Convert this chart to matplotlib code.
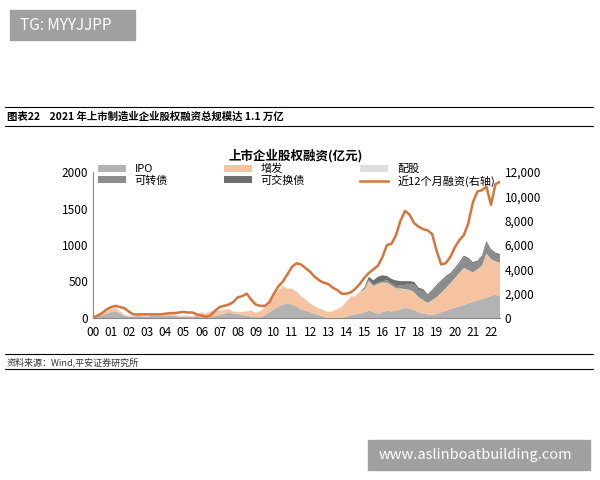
import numpy as np
import matplotlib.pyplot as plt
from matplotlib.patches import Rectangle

plt.rcParams['font.family'] = ['Noto Sans CJK SC', 'DejaVu Sans']

# quarterly data, 2000Q1 .. 2022Q3
ipo = [10, 30, 40, 60, 80, 90, 60, 30, 20, 20, 30, 20, 20, 30, 30, 30, 30, 40, 30, 20,
       20, 20, 10, 30, 10, 10, 10, 30,
       40, 60, 80, 60, 60, 40, 30, 20, 10, 10, 40, 80, 120, 160, 180, 200, 180, 160, 120, 100,
       80, 60, 40, 20, 0, 0, 0, 0, 20, 40, 50, 60, 80, 100, 80, 60, 80, 100, 90, 100,
       120, 140, 130, 110, 80, 60, 50, 40, 60, 80, 100, 120, 140, 160, 180, 200,
       220, 240, 260, 280, 300, 320, 300]
zengfa = [0, 10, 20, 30, 40, 50, 30, 10, 10, 10, 10, 10, 10, 10, 10, 10, 10, 10, 20, 10,
          10, 10, 10, 30, 60, 50, 80, 60, 60, 50, 40, 30, 20, 40, 60, 80, 60, 80, 100, 120,
          180, 220, 250, 200, 220, 200, 180, 150, 120, 100, 90, 90, 80, 90, 120, 150, 200, 250, 250, 300,
          300, 400, 350, 400, 400, 380, 350, 300, 280, 250, 250, 240, 200, 180, 150, 200, 220, 260, 300, 350,
          400, 450, 500, 450, 400, 420, 450, 600, 500, 450, 450]
peigu = [5, 10, 10, 10, 10, 10, 5, 5, 5, 5, 5, 5, 5, 5, 5, 5, 5, 5, 5, 5,
         5, 5, 5, 5, 10, 10, 10, 10, 10, 10, 5, 5, 5, 5, 5, 5, 5, 10, 20, 30,
         20, 10, 10, 5, 5, 5, 5, 5, 5, 5, 5, 5, 5, 5, 5, 5, 5, 5, 5, 5,
         5, 5, 5, 5, 5, 5, 5, 5, 5, 5, 5, 5, 5, 5, 5, 5, 5, 5, 5, 5,
         5, 5, 5, 5, 5, 5, 5, 5, 5, 5, 5]
kezhuan = [0] * 60 + [10, 20, 20, 20, 20, 30, 30, 30, 40, 60, 80, 100, 100, 120, 100, 120, 150, 150, 150, 120,
                      120, 130, 150, 150, 120, 100, 120, 150, 120, 100, 100]
kejiaohuan = [0] * 60 + [20, 40, 60, 80, 80, 60, 60, 80, 60, 50, 40, 40, 30, 30, 20, 20, 20, 20, 20, 20,
                         20, 20, 20, 20, 20, 20, 20, 20, 20, 20, 20]
rolling12 = [0, 200, 400, 700, 900, 1000, 900, 800, 500, 300, 300, 300, 300, 300, 300, 300,
             350, 400, 400, 450, 500, 450, 450, 300, 200, 100, 200, 600, 900, 1000, 1100, 1300,
             1700, 1800, 2000, 1500, 1100, 1000, 1000, 1300, 2000, 2600, 3000, 3600,
             4200, 4500, 4400, 4100, 3800, 3400, 3100, 2900, 2800, 2500, 2300, 2000,
             2000, 2100, 2400, 2800, 3300, 3700, 4000, 4300, 5000, 6000, 6100, 6800,
             8000, 8800, 8500, 7800, 7500, 7300, 7200, 6900, 5500, 4400, 4500, 5000,
             5800, 6400, 6800, 7800, 9500, 10400, 10500, 10800, 9300, 11000, 11200]
tick_labels = ['%02d' % y for y in range(0, 23)]
years = 2000 + 0.25 * np.arange(len(rolling12))

fig = plt.figure(figsize=(6, 4.8), dpi=100)

# watermark boxes and header/footer
fig.patches.append(Rectangle((10 / 600, 1 - 40 / 480), 125 / 600, 30 / 480, transform=fig.transFigure,
                             color='#a0a0a0', zorder=0))
fig.text(20 / 600, 1 - 25 / 480, 'TG: MYYJJPP', color='white', fontsize=11, va='center')
fig.patches.append(Rectangle((368 / 600, 1 - 470 / 480), 222 / 600, 30 / 480, transform=fig.transFigure,
                             color='#a0a0a0', zorder=0))
fig.text(379 / 600, 1 - 455 / 480, 'www.aslinboatbuilding.com', color='white', fontsize=10.5, va='center')
for yy in [107, 126, 354, 369]:
    fig.add_artist(plt.Line2D([5 / 600, 593 / 600], [1 - yy / 480] * 2, color='black', lw=0.8))
fig.text(7 / 600, 1 - 117 / 480, '图表22    2021 年上市制造业企业股权融资总规模达 1.1 万亿',
         fontsize=7.5, fontweight='bold', va='center')
fig.text(7 / 600, 1 - 362 / 480, '资料来源：Wind,平安证券研究所', fontsize=6.5, style='italic',
         va='center', color='#333333')

ax = fig.add_axes([93 / 600, 1 - 318 / 480, 407 / 600, 146 / 480])
ax.stackplot(years, ipo, zengfa, peigu, kezhuan, kejiaohuan,
             colors=['#b3b3b3', '#f6c3a0', '#dddddd', '#8c8c8c', '#6e6e6e'],
             labels=['IPO', '增发', '配股', '可转债', '可交换债'], lw=0)
ax.set_xlim(2000, 2022.5)
ax.set_ylim(0, 2000)
ax.set_yticks([0, 500, 1000, 1500, 2000])
ax.set_xticks(np.arange(2000, 2023))
ax.set_xticklabels(tick_labels)
ax.tick_params(length=0, labelsize=8.5)
ax.tick_params(axis='x', pad=6)
for s in ['top', 'right']:
    ax.spines[s].set_visible(False)
ax.spines['left'].set_color('#888888')
ax.spines['bottom'].set_color('#888888')

ax2 = ax.twinx()
ax2.plot(years, rolling12, color='#d6753a', lw=1.8, label='近12个月融资(右轴)')
ax2.set_ylim(0, 12000)
ax2.set_yticks(range(0, 12001, 2000))
ax2.set_yticklabels(['0', '2,000', '4,000', '6,000', '8,000', '10,000', '12,000'])
ax2.tick_params(length=0, labelsize=8.5)
for s in ['top', 'right', 'left', 'bottom']:
    ax2.spines[s].set_visible(False)

h1, l1 = ax.get_legend_handles_labels()
h2, l2 = ax2.get_legend_handles_labels()
order = [0, 3, 1, 4, 2]
handles = [h1[i] for i in order] + h2
labels = [l1[i] for i in order] + l2
ax.legend(handles, labels, ncol=3, loc='lower center', bbox_to_anchor=(0.5, 0.86),
          frameon=False, fontsize=8, handlelength=2.5, handleheight=0.6,
          columnspacing=5, labelspacing=0.1, borderpad=0)
fig.text(296 / 600, 1 - 156 / 480, '上市企业股权融资(亿元)', fontsize=9, fontweight='bold', ha='center', va='center')

fig.savefig('out.png', dpi=100)
